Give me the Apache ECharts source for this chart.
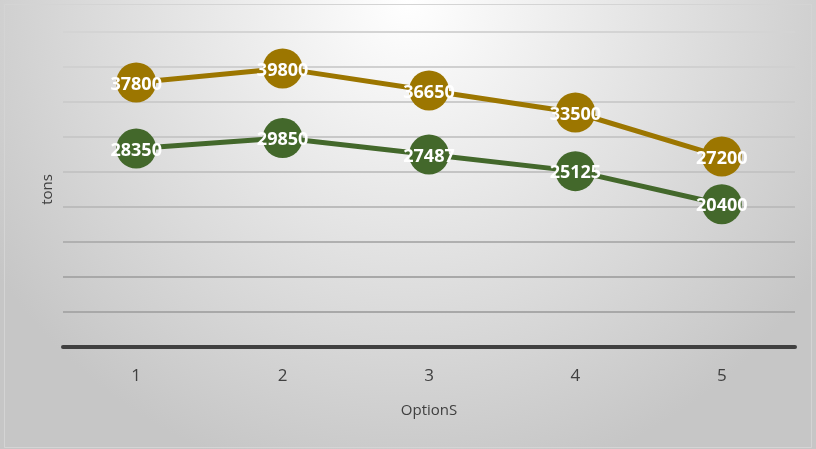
<!DOCTYPE html>
<html>
<head>
<meta charset="utf-8">
<script src="https://cdn.jsdelivr.net/npm/echarts@6/dist/echarts.min.js"></script>
<style>
  html, body { margin: 0; padding: 0; background: #fff; }
  #main { width: 816px; height: 449px; }
</style>
</head>
<body>
<div id="main"></div>
<script>
// data
var categories = ['1', '2', '3', '4', '5'];
var upperValues = [37800, 39800, 36650, 33500, 27200];
var lowerValues = [28350, 29850, 27487, 25125, 20400];

var chart = echarts.init(document.getElementById('main'));

function lineSeries(name, data, color) {
    return {
        name: name,
        type: 'line',
        data: data,
        symbol: 'circle',
        symbolSize: 40,
        lineStyle: { color: color, width: 5 },
        itemStyle: { color: color },
        label: {
            show: true,
            position: 'inside',
            color: '#fff',
            fontWeight: 'bold',
            fontSize: 18,
            fontFamily: 'Open Sans',
            offset: [0, 2]
        },
        z: 3
    };
}

var option = {
    animation: false,
    backgroundColor: {
        type: 'radial',
        x: 0.5, y: 0, r: 1.1,
        colorStops: [
            { offset: 0, color: '#ffffff' },
            { offset: 1, color: '#c6c6c6' }
        ]
    },
    graphic: [{
        type: 'rect',
        shape: { x: 4.5, y: 4.5, width: 807, height: 443 },
        style: { fill: 'none', stroke: '#d4d4d4', lineWidth: 1 },
        silent: true
    }],
    grid: { left: 63, right: 21, top: 32, bottom: 102 },
    xAxis: {
        type: 'category',
        data: categories,
        boundaryGap: true,
        name: 'OptionS',
        nameLocation: 'middle',
        nameGap: 56,
        nameTextStyle: { color: '#404040', fontSize: 15, fontFamily: 'Open Sans' },
        axisLine: { lineStyle: { color: '#404040', width: 4 } },
        axisTick: { show: false },
        axisLabel: { color: '#404040', fontSize: 17, fontFamily: 'Open Sans', margin: 21 }
    },
    yAxis: {
        type: 'value',
        min: 0,
        max: 45000,
        interval: 5000,
        name: 'tons',
        nameLocation: 'middle',
        nameGap: 8,
        nameTextStyle: { color: '#404040', fontSize: 15, fontFamily: 'Open Sans' },
        axisLine: { show: false },
        axisTick: { show: false },
        axisLabel: { show: false },
        splitLine: {
            lineStyle: {
                width: 2,
                color: ['#c8c8c8', '#a8a8a8', '#a8a8a8', '#b0b0b0', '#bcbcbc', '#c4c4c4', '#c8c8c8', '#cccccc', '#d0d0d0', '#d4d4d4']
            }
        }
    },
    series: [
        lineSeries('upper', upperValues, '#9c7600'),
        lineSeries('lower', lowerValues, '#43682b')
    ]
};

chart.setOption(option);
</script>
</body>
</html>
